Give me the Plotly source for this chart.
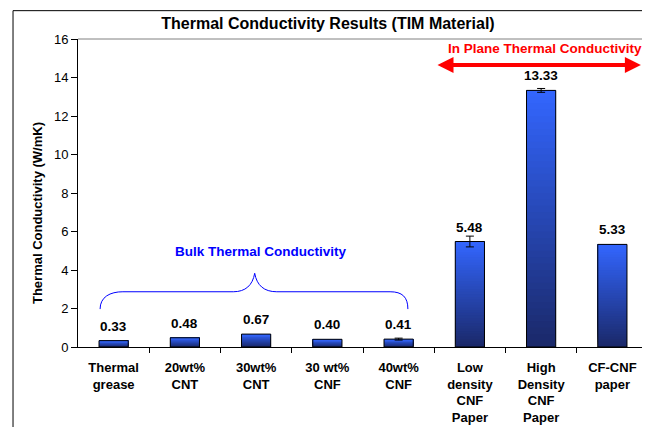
import plotly.graph_objects as go

categories = ["Thermal<br>grease", "20wt%<br>CNT", "30wt%<br>CNT", "30 wt%<br>CNF",
              "40wt%<br>CNF", "Low<br>density<br>CNF<br>Paper", "High<br>Density<br>CNF<br>Paper",
              "CF-CNF<br>paper"]
values = [0.33, 0.48, 0.67, 0.40, 0.41, 5.48, 13.33, 5.33]
errors = [None, None, None, None, 0.05, 0.28, 0.10, None]
y_ticks = [0, 2, 4, 6, 8, 10, 12, 14, 16]

FONT = "Liberation Sans, Arial, sans-serif"
xs = list(range(len(categories)))
BAR_W = 0.41

# the page body has an 8px margin; the figure is sized to fit the window
OFF = 8
W, H = 650 - OFF, 427 - OFF

fig = go.Figure()

# vertical gradient: overlapping slices, each from its base up to the bar top
N = 40
top = (51, 102, 255)
bot = (26, 40, 104)
for k in range(N):
    t = (k + 0.5) / N
    c = tuple(round(bot[i] + (top[i] - bot[i]) * t) for i in range(3))
    fig.add_trace(go.Bar(
        x=xs, y=[v * (N - k) / N for v in values], base=[v * k / N for v in values],
        width=BAR_W, marker=dict(color="rgb(%d,%d,%d)" % c, line=dict(width=0)),
        showlegend=False, hoverinfo="skip"))

# outline
fig.add_trace(go.Bar(
    x=xs, y=values, width=BAR_W,
    marker=dict(color="rgba(0,0,0,0)", line=dict(color="black", width=1)),
    showlegend=False))

# error bars only where the reference shows them
ex = [x for x, e in zip(xs, errors) if e is not None]
ey = [v for v, e in zip(values, errors) if e is not None]
ee = [e for e in errors if e is not None]
fig.add_trace(go.Scatter(
    x=ex, y=ey, mode="markers", marker=dict(size=1, opacity=0),
    error_y=dict(type="data", array=ee, visible=True, color="black",
                 thickness=1, width=4),
    showlegend=False, hoverinfo="skip"))

annotations = []
for x, v in zip(xs, values):
    annotations.append(dict(x=x, y=v, xref="x", yref="y", text="<b>%.2f</b>" % v,
                            showarrow=False, yanchor="bottom", yshift=5,
                            font=dict(family=FONT, size=13.5, color="black")))

annotations.append(dict(x=2.07, y=4.94, xref="x", yref="y",
                        text="<b>Bulk Thermal Conductivity</b>", showarrow=False,
                        font=dict(family=FONT, size=13.5, color="#0000FF")))
annotations.append(dict(x=6.05, y=15.53, xref="x", yref="y",
                        text="<b>In Plane Thermal Conductivity</b>", showarrow=False,
                        font=dict(family=FONT, size=13.5, color="#FF0000")))
annotations.append(dict(x=7.40, y=14.65, ax=4.525, ay=14.65, xref="x", yref="y",
                        axref="x", ayref="y", text="", showarrow=True,
                        arrowside="end+start", arrowhead=2, startarrowhead=2,
                        arrowsize=0.8, startarrowsize=0.8, arrowwidth=4,
                        arrowcolor="#FF0000"))
# y axis title
annotations.append(dict(x=-0.0719, y=0.435, xref="paper", yref="paper",
                        text="<b>Thermal Conductivity (W/mK)</b>", textangle=-90,
                        showarrow=False, xanchor="center", yanchor="middle",
                        font=dict(family=FONT, size=13, color="black")))

brace = ("M -0.19,1.97 C -0.19,2.6 -0.05,2.87 0.13,2.87 "
         "L 1.68,2.87 C 1.85,2.87 1.95,3.2 1.98,3.83 "
         "C 2.01,3.2 2.11,2.87 2.29,2.87 "
         "L 3.88,2.87 C 4.05,2.87 4.13,2.6 4.13,1.97")

shapes = [
    dict(type="path", path=brace, xref="x", yref="y",
         line=dict(color="#0000FF", width=1)),
    # plot area gray top/right border
    dict(type="line", xref="paper", yref="paper", x0=0, x1=1, y0=1, y1=1,
         line=dict(color="#808080", width=1)),
    dict(type="line", xref="paper", yref="paper", x0=1, x1=1, y0=0, y1=1,
         line=dict(color="#808080", width=1)),
    # outer chart frame
    dict(type="rect", xref="paper", yref="paper", x0=-0.114, x1=1.01,
         y0=-0.28, y1=1.092, line=dict(color="black", width=1),
         fillcolor="rgba(0,0,0,0)", layer="below"),
]

fig.update_layout(
    width=W, height=H,
    margin=dict(l=78 - OFF, r=2, t=39 - OFF, b=80, autoexpand=False),
    paper_bgcolor="white", plot_bgcolor="white",
    barmode="overlay",
    showlegend=False,
    title=dict(text="<b>Thermal Conductivity Results (TIM Material)</b>",
               x=(328 - OFF) / W, xanchor="center", xref="container",
               y=1 - (23 - OFF) / H, yanchor="middle", yref="container",
               font=dict(family=FONT, size=16, color="black")),
    annotations=annotations,
    shapes=shapes,
    font=dict(family=FONT, color="black"),
)

fig.update_xaxes(
    range=[-0.5, 7.5], tickvals=xs, ticktext=["<b>%s</b>" % c for c in categories],
    ticks="", showline=True, linecolor="black", linewidth=1, showgrid=False,
    zeroline=False, tickfont=dict(family=FONT, size=13, color="black"),
    minor=dict(tickvals=[i + 0.5 for i in xs[:-1]], ticks="outside", ticklen=5,
               tickcolor="black", showgrid=False),
    ticklabelstandoff=8, automargin=False,
)
fig.update_yaxes(
    range=[0, 16], tickvals=y_ticks, ticks="outside", ticklen=6, tickcolor="black",
    showline=True, linecolor="black", linewidth=1, showgrid=False, zeroline=False,
    tickfont=dict(family=FONT, size=13, color="black"),
    automargin=False,
)

fig.write_html("out.html")
